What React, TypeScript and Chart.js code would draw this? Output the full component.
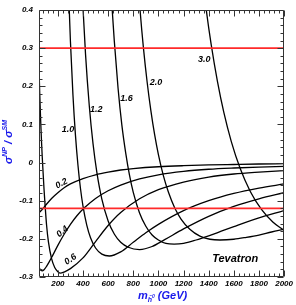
import React, { useEffect, useRef } from 'react';
import { Chart, registerables } from 'chart.js';

Chart.register(...registerables);

// ---- axes ----
const xMin = 50;
const xMax = 2000;
const yMin = -0.3;
const yMax = 0.4;
const xTickValues = [200, 400, 600, 800, 1000, 1200, 1400, 1600, 1800, 2000];
const xTickLabels = ['200', '400', '600', '800', '1000', '1200', '1400', '1600', '1800', '2000'];
const yTickValues = [-0.3, -0.2, -0.1, 0, 0.1, 0.2, 0.3, 0.4];
const yTickLabels = ['-0.3', '-0.2', '-0.1', '0', '0.1', '0.2', '0.3', '0.4'];

// ---- curves: m_h (GeV) -> sigma^NP / sigma^SM ----
const mass02 = [50, 80, 100, 150, 200, 250, 300, 400, 500, 600, 700, 800, 1000, 1200, 1400, 1600, 1800, 2000];
const ratio02 = [-0.132, -0.121, -0.113, -0.094, -0.079, -0.066, -0.056, -0.042, -0.032, -0.025, -0.0195, -0.0158, -0.011, -0.0082, -0.0063, -0.005, -0.0038, -0.003];

const mass04 = [45, 50, 60, 75, 90, 110, 130, 150, 200, 250, 300, 350, 413, 500, 600, 700, 850, 1000, 1200, 1400, 1600, 1800, 2000];
const ratio04 = [-0.262, -0.272, -0.281, -0.284, -0.281, -0.272, -0.261, -0.249, -0.217, -0.188, -0.162, -0.14, -0.118, -0.094, -0.074, -0.059, -0.043, -0.032, -0.023, -0.0175, -0.0142, -0.0118, -0.01];

const mass06 = [45, 50, 55, 60, 65, 70, 75, 81, 90, 97, 110, 125, 150, 175, 200, 220, 250, 300, 400, 500, 600, 700, 850, 1000, 1200, 1400, 1600, 1800, 2000];
const ratio06 = [0.33, 0.25, 0.19, 0.14, 0.095, 0.055, 0.02, -0.017, -0.07, -0.105, -0.163, -0.208, -0.252, -0.275, -0.286, -0.29, -0.287, -0.278, -0.25, -0.207, -0.165, -0.131, -0.095, -0.071, -0.051, -0.038, -0.03, -0.025, -0.021];

const mass10 = [270, 287, 300, 320, 340, 360, 380, 400, 430, 460, 500, 550, 610, 700, 800, 900, 1000, 1200, 1400, 1600, 1800, 2000];
const ratio10 = [0.625, 0.434, 0.318, 0.178, 0.072, -0.007, -0.068, -0.114, -0.164, -0.197, -0.224, -0.24, -0.245, -0.234, -0.209, -0.184, -0.162, -0.126, -0.1, -0.081, -0.067, -0.056];

const mass12 = [380, 397, 420, 450, 480, 510, 550, 600, 650, 700, 760, 850, 950, 1050, 1200, 1400, 1600, 1800, 2000];
const ratio12 = [0.551, 0.424, 0.285, 0.149, 0.049, -0.025, -0.096, -0.153, -0.188, -0.209, -0.222, -0.228, -0.22, -0.202, -0.174, -0.141, -0.115, -0.095, -0.079];

const mass16 = [608, 626, 649, 679, 709, 740, 770, 800, 850, 900, 950, 1000, 1060, 1125, 1200, 1300, 1400, 1500, 1600, 1700, 1800, 1900, 2000];
const ratio16 = [0.543, 0.432, 0.319, 0.195, 0.099, 0.025, -0.033, -0.078, -0.132, -0.167, -0.19, -0.203, -0.212, -0.214, -0.212, -0.203, -0.192, -0.18, -0.168, -0.156, -0.145, -0.135, -0.126];

const mass20 = [820, 854, 881, 910, 940, 970, 1000, 1040, 1080, 1130, 1180, 1250, 1330, 1410, 1490, 1600, 1700, 1800, 1900, 2000];
const ratio20 = [0.553, 0.4, 0.3, 0.212, 0.136, 0.073, 0.021, -0.035, -0.078, -0.119, -0.148, -0.175, -0.193, -0.201, -0.203, -0.201, -0.196, -0.19, -0.182, -0.175];

const mass30 = [1340, 1380, 1420, 1470, 1520, 1580, 1650, 1730, 1820, 1910, 2000];
const ratio30 = [0.513, 0.402, 0.309, 0.212, 0.132, 0.055, -0.015, -0.075, -0.123, -0.156, -0.178];

// horizontal reference levels (red)
const redLevels = [0.3, -0.12];

// curve labels
const labelTexts = ['1.0', '1.2', '1.6', '2.0', '3.0', '0.2', '0.4', '0.6'];
const labelMass = [281, 505, 747, 980, 1364, 229, 236, 301];
const labelRatio = [0.086, 0.138, 0.169, 0.209, 0.269, -0.055, -0.181, -0.254];
const labelAngle = [0, 0, 0, 0, 0, -28, -40, -35];

const curveSets = [
  [mass02, ratio02],
  [mass04, ratio04],
  [mass06, ratio06],
  [mass10, ratio10],
  [mass12, ratio12],
  [mass16, ratio16],
  [mass20, ratio20],
  [mass30, ratio30],
];

const FONT = '"Liberation Sans", Arial, Helvetica, sans-serif';
const BLUE = 'rgb(25,25,235)';

const decorPlugin = {
  id: 'decor',
  afterDatasetsDraw(chart: any) {
    const { ctx, chartArea: a, scales } = chart;
    const xs = scales.x;
    const ys = scales.y;
    const L = Math.round(a.left) + 0.5;
    const R = Math.round(a.right) - 0.5;
    const T = Math.round(a.top) + 0.5;
    const B = Math.round(a.bottom) - 0.5;
    ctx.save();
    ctx.strokeStyle = '#333';
    ctx.lineWidth = 1;
    const line = (x1: number, y1: number, x2: number, y2: number) => {
      ctx.beginPath();
      ctx.moveTo(x1, y1);
      ctx.lineTo(x2, y2);
      ctx.stroke();
    };
    // frame
    line(L, T, R, T);
    line(R, T, R, B);
    line(R, B, L, B);
    line(L, B, L, T);
    // y ticks (major + minor), both sides, inside
    for (let k = -15; k <= 20; k++) {
      const v = k * 0.02;
      const major = k % 5 === 0;
      const len = major ? 6 : 3;
      const py = Math.round(ys.getPixelForValue(v)) + 0.5;
      line(L, py, L + len, py);
      line(R, py, R - len, py);
    }
    // x ticks (major + minor), both sides, inside
    for (let k = 1; k <= 50; k++) {
      const m = k * 40;
      if (m < xMin) continue;
      const major = k % 5 === 0;
      const len = major ? 6 : 3;
      const px = Math.round(xs.getPixelForValue(m)) + 0.5;
      line(px, B, px, B - len);
      line(px, T, px, T + len);
    }
    // curve labels
    ctx.fillStyle = '#000';
    ctx.font = `italic bold 9px ${FONT}`;
    ctx.textAlign = 'center';
    ctx.textBaseline = 'middle';
    labelTexts.forEach((t, i) => {
      ctx.save();
      ctx.translate(xs.getPixelForValue(labelMass[i]), ys.getPixelForValue(labelRatio[i]));
      ctx.rotate((labelAngle[i] * Math.PI) / 180);
      ctx.fillText(t, 0, 0);
      ctx.restore();
    });
    // collider label
    ctx.font = `italic bold 11px ${FONT}`;
    ctx.fillText('Tevatron', xs.getPixelForValue(1611), ys.getPixelForValue(-0.253));

    // x title: m_{h^0} (GeV)
    ctx.fillStyle = BLUE;
    ctx.textAlign = 'left';
    ctx.textBaseline = 'alphabetic';
    let cx = a.left + 99;
    const by = a.bottom + 22;
    ctx.font = `italic bold 11px ${FONT}`;
    ctx.fillText('m', cx, by);
    cx += ctx.measureText('m').width;
    ctx.font = `italic bold 7px ${FONT}`;
    ctx.fillText('\u0125', cx, by + 3);
    cx += ctx.measureText('\u0125').width;
    ctx.font = `italic bold 5px ${FONT}`;
    ctx.fillText('0', cx, by - 1);
    cx += ctx.measureText('0').width + 3;
    ctx.font = `italic bold 11px ${FONT}`;
    ctx.fillText('(GeV)', cx, by);

    // y title: sigma^NP / sigma^SM (rotated)
    ctx.save();
    ctx.translate(12, 164);
    ctx.rotate(-Math.PI / 2);
    let ty = 0;
    const big = `italic bold 11px ${FONT}`;
    const small = `italic bold 7px ${FONT}`;
    ctx.font = big;
    ctx.fillText('\u03c3', ty, 0);
    ty += ctx.measureText('\u03c3').width;
    ctx.font = small;
    ctx.fillText('NP', ty, -5);
    ty += ctx.measureText('NP').width;
    ctx.font = big;
    ctx.fillText(' / \u03c3', ty, 0);
    ty += ctx.measureText(' / \u03c3').width;
    ctx.font = small;
    ctx.fillText('SM', ty, -5);
    ctx.restore();

    ctx.restore();
  },
};

export default function App() {
  const ref = useRef<HTMLCanvasElement>(null);
  useEffect(() => {
    const canvas = ref.current;
    if (!canvas) return;
    const datasets: any[] = curveSets.map(([ms, vs]) => ({
      data: ms.map((m, i) => ({ x: m, y: vs[i] })),
      showLine: true,
      borderColor: '#000',
      borderWidth: 1.3,
      pointRadius: 0,
      cubicInterpolationMode: 'monotone',
      capBezierPoints: false,
      clip: 0,
      order: 2,
    }));
    redLevels.forEach((lv) => {
      datasets.push({
        data: [
          { x: xMin, y: lv },
          { x: xMax, y: lv },
        ],
        showLine: true,
        borderColor: '#ff2a2a',
        borderWidth: 1.6,
        pointRadius: 0,
        clip: 0,
        order: 1,
      });
    });
    const tickFont = { family: FONT, size: 8, style: 'italic' as const, weight: 'bold' as const, lineHeight: 1 };
    const chart = new Chart(canvas, {
      type: 'scatter',
      data: { datasets },
      options: {
        animation: false,
        responsive: false,
        devicePixelRatio: 1,
        layout: { padding: { left: 0, right: 10, top: 4, bottom: 0 } },
        plugins: { legend: { display: false }, tooltip: { enabled: false } },
        scales: {
          x: {
            type: 'linear',
            min: xMin,
            max: xMax,
            grid: { display: false, drawTicks: false },
            border: { display: false },
            afterBuildTicks: (s: any) => {
              s.ticks = xTickValues.map((value) => ({ value }));
            },
            afterFit: (s: any) => {
              s.height = 28;
            },
            ticks: {
              autoSkip: false,
              maxRotation: 0,
              minRotation: 0,
              padding: 3,
              color: '#000',
              font: tickFont,
              callback: (_v: any, i: number) => xTickLabels[i],
            },
          },
          y: {
            type: 'linear',
            min: yMin,
            max: yMax,
            grid: { display: false, drawTicks: false },
            border: { display: false },
            afterBuildTicks: (s: any) => {
              s.ticks = yTickValues.map((value) => ({ value }));
            },
            afterFit: (s: any) => {
              s.width = 39;
            },
            ticks: {
              autoSkip: false,
              padding: 6,
              color: '#000',
              font: tickFont,
              callback: (_v: any, i: number) => yTickLabels[i],
            },
          },
        },
      },
      plugins: [decorPlugin],
    });
    return () => chart.destroy();
  }, []);
  return (
    <div style={{ position: 'fixed', left: 0, top: 0, width: 296, height: 305, background: '#fff' }}>
      <canvas ref={ref} width={296} height={305} style={{ display: 'block' }} />
    </div>
  );
}
